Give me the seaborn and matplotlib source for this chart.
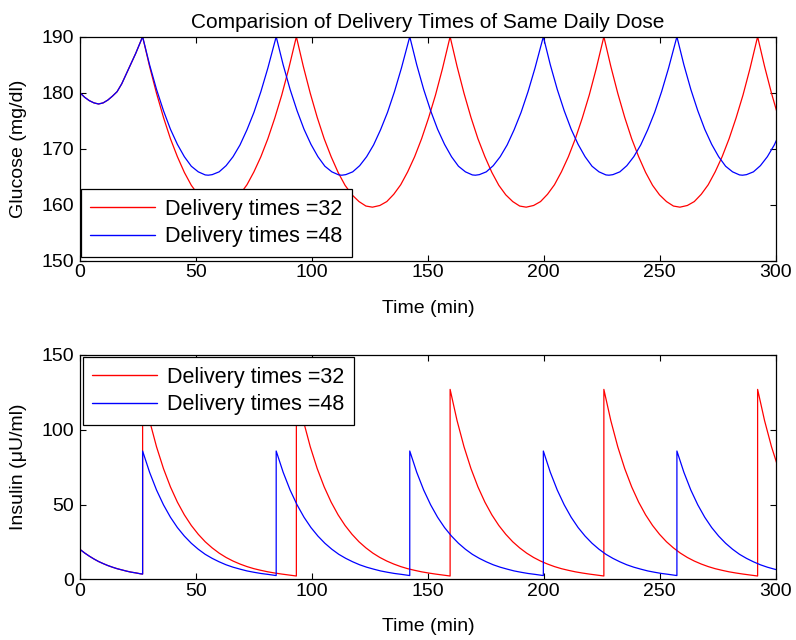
import matplotlib
matplotlib.use("Agg")
import matplotlib.pyplot as plt
import pandas as pd
import seaborn as sns

# ---------------------------------------------------------------
# Dose delivery instants (min) for the two schedules
# ---------------------------------------------------------------
red_label = "Delivery times =32"
blue_label = "Delivery times =48"
red_delivery = [27.0, 93.3, 159.6, 225.9, 292.2]
blue_delivery = [27.0, 84.6, 142.2, 199.8, 257.4]

# Response before the first dose (identical for both schedules)
lead_time = [0, 2, 4, 6, 8, 10, 12, 14, 16, 18, 20, 22, 24, 26, 27]
lead_glucose = [180.0, 179.2, 178.6, 178.2, 178.0, 178.2, 178.7, 179.4,
                180.2, 181.6, 183.4, 185.2, 187.0, 189.0, 190.0]
lead_insulin = [20.0, 17.6, 15.5, 13.6, 11.9, 10.5, 9.2, 8.1,
                7.1, 6.3, 5.5, 4.8, 4.3, 3.7, 3.5]

# Glucose over one dosing interval (minutes after a dose)
red_gluc_offset = [0, 3, 6, 9, 12, 15, 18, 21, 24, 27, 30, 32.8,
                   36, 39, 42, 45, 48, 51, 54, 57, 60, 63, 66.3]
red_gluc = [190.0, 184.7, 179.9, 175.6, 171.8, 168.6, 165.8, 163.5,
            161.8, 160.6, 159.8, 159.6, 159.9, 160.6, 161.9, 163.6,
            165.9, 168.6, 171.8, 175.5, 179.6, 184.3, 190.0]

blue_gluc_offset = [0, 3, 6, 9, 12, 15, 18, 21, 24, 27, 28.3,
                    30, 33, 36, 39, 42, 45, 48, 51, 54, 57.6]
blue_gluc = [190.0, 185.0, 180.6, 176.8, 173.5, 170.8, 168.6, 166.9,
             165.9, 165.35, 165.3, 165.4, 165.9, 167.0, 168.6, 170.7,
             173.4, 176.5, 180.2, 184.4, 190.0]

# Plasma insulin over one dosing interval (minutes after a dose)
red_ins_offset = [0, 3, 6, 9, 12, 15, 18, 21, 24, 27, 30, 33, 36, 39,
                  42, 45, 48, 51, 54, 57, 60, 63, 66.3]
red_ins = [127.0, 106.1, 88.6, 74.0, 61.8, 51.6, 43.1, 36.0, 30.1,
           25.1, 21.0, 17.5, 14.6, 12.2, 10.2, 8.5, 7.1, 6.0, 5.0,
           4.2, 3.5, 2.9, 2.2]

blue_ins_offset = [0, 3, 6, 9, 12, 15, 18, 21, 24, 27, 30, 33, 36, 39,
                   42, 45, 48, 51, 54, 57.6]
blue_ins = [85.8, 71.6, 59.7, 49.8, 41.5, 34.6, 28.9, 24.1, 20.1, 16.7,
            14.0, 11.7, 9.7, 8.1, 6.8, 5.6, 4.7, 3.9, 3.3, 2.5]

x_ticks = [0, 50, 100, 150, 200, 250, 300]
gluc_ticks = [150, 160, 170, 180, 190]
ins_ticks = [0, 50, 100, 150]


def assemble(lead_v, deliveries, offsets, values):
    """Chain the pre-dose response with one interval per delivery."""
    t = list(lead_time)
    v = list(lead_v)
    for d in deliveries:
        t += [d + o for o in offsets]
        v += list(values)
    return pd.DataFrame({"Time": t, "Value": v})


red_g = assemble(lead_glucose, red_delivery, red_gluc_offset, red_gluc)
blue_g = assemble(lead_glucose, blue_delivery, blue_gluc_offset, blue_gluc)
red_i = assemble(lead_insulin, red_delivery, red_ins_offset, red_ins)
blue_i = assemble(lead_insulin, blue_delivery, blue_ins_offset, blue_ins)

sns.set_style("ticks")
plt.rcParams["font.family"] = ["Liberation Sans", "DejaVu Sans"]
plt.rcParams["text.color"] = "black"
plt.rcParams["axes.labelcolor"] = "black"
plt.rcParams["xtick.color"] = "black"
plt.rcParams["ytick.color"] = "black"
plt.rcParams["axes.edgecolor"] = "black"

W, H = 796, 640
fig = plt.figure(figsize=(W / 100, H / 100), dpi=100)
left, right = 80 / W, 775.7 / W
ax1 = fig.add_axes([left, 1 - 261 / H, right - left, (261 - 36.7) / H])
ax2 = fig.add_axes([left, 1 - 579.3 / H, right - left, (579.3 - 355) / H])

lw = 0.9
for ax, (r, b) in zip((ax1, ax2), ((red_g, blue_g), (red_i, blue_i))):
    sns.lineplot(data=r, x="Time", y="Value", estimator=None, sort=False,
                 color="#ff0000", linewidth=lw, label=red_label, ax=ax)
    sns.lineplot(data=b, x="Time", y="Value", estimator=None, sort=False,
                 color="#0000ff", linewidth=lw, label=blue_label, ax=ax)

ax1.set_ylim(150, 190)
ax1.set_yticks(gluc_ticks)
ax2.set_ylim(0, 150)
ax2.set_yticks(ins_ticks)

for ax in (ax1, ax2):
    ax.set_xlim(0, 300)
    ax.set_xticks(x_ticks)
    ax.tick_params(direction="in", top=True, right=True, length=4.5,
                   width=0.8, labelsize=14)
    ax.tick_params(axis="x", pad=2.5)
    ax.tick_params(axis="y", pad=4.5)
    for s in ax.spines.values():
        s.set_visible(True)
        s.set_linewidth(0.9)
        s.set_color("black")
    ax.set_xlabel("Time (min)", fontsize=14)
    ax.xaxis.set_label_coords(0.5, -0.172)

ax1.set_ylabel("Glucose (mg/dl)", fontsize=14)
ax2.set_ylabel("Insulin (\u03bcU/ml)", fontsize=14)
ax1.yaxis.set_label_coords(-0.076, 0.5)
ax2.yaxis.set_label_coords(-0.076, 0.5)

ax1.set_title("Comparision of Delivery Times of Same Daily Dose",
              fontsize=15, pad=6)

leg_kw = dict(fontsize=15.5, frameon=True, fancybox=False, framealpha=1,
              edgecolor="black", borderaxespad=0, borderpad=0.45,
              handlelength=3.0, handletextpad=0.45, labelspacing=0.3)
lg1 = ax1.legend(loc="lower left", bbox_to_anchor=(0.001, 0.019), **leg_kw)
lg2 = ax2.legend(loc="upper left", bbox_to_anchor=(0.004, 0.99), **leg_kw)
for lg in (lg1, lg2):
    lg.get_frame().set_linewidth(0.9)
    for h in lg.get_lines():
        h.set_linewidth(1.0)

fig.savefig("out.png", dpi=100)
